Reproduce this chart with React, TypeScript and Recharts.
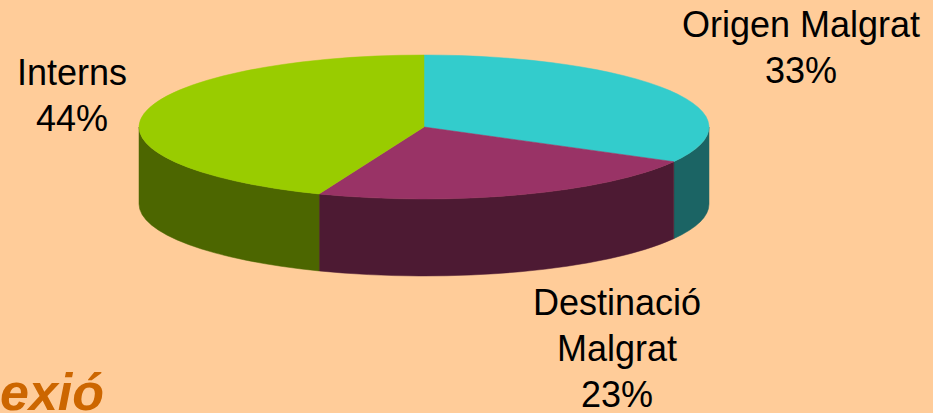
import { PieChart, Pie, Cell } from "recharts";

// shares, clockwise from 12 o'clock
const categories = ["Origen Malgrat", "Destinació Malgrat", "Interns"];
const shares = [33, 23, 44];
const labelLines = [["Origen Malgrat"], ["Destinació", "Malgrat"], ["Interns"]];

const topColors = ["#33CCCC", "#993366", "#99CC00"];
const sideColors = ["#1B6464", "#4D1A33", "#4C6600"];

const data = categories.map((name, i) => ({ name, value: shares[i] }));

const W = 933;
const H = 413;
const CX = 424;
const CY = 127;
const RX = 285;
const TILT = 72 / 285;
const DEPTH = 77;
const FONT = '"Liberation Sans", Arial, sans-serif';
const LINE = 46;
// baseline of the first line of each label
const labelAnchors = [
  { x: 801, y: 37 },
  { x: 617, y: 315 },
  { x: 72, y: 85 },
];

const RAD = Math.PI / 180;
const pt = (cx: number, cy: number, rx: number, ry: number, a: number) => [
  cx + rx * Math.cos(a * RAD),
  cy - ry * Math.sin(a * RAD),
];

// eslint-disable-next-line @typescript-eslint/no-explicit-any
const TopFace = (props: any) => {
  const { cx, cy, outerRadius, startAngle, endAngle, fill } = props;
  const rx = outerRadius;
  const ry = outerRadius * TILT;
  const [x1, y1] = pt(cx, cy, rx, ry, startAngle);
  const [x2, y2] = pt(cx, cy, rx, ry, endAngle);
  const large = Math.abs(startAngle - endAngle) > 180 ? 1 : 0;
  return (
    <path
      d={`M${cx},${cy} L${x1},${y1} A${rx},${ry} 0 ${large} 1 ${x2},${y2} Z`}
      fill={fill}
      stroke={fill}
      strokeWidth={0.5}
    />
  );
};

// eslint-disable-next-line @typescript-eslint/no-explicit-any
const SideWall = (props: any) => {
  const { cx, cy, outerRadius, startAngle, endAngle, fill } = props;
  const rx = outerRadius;
  const ry = outerRadius * TILT;
  const s = Math.max(startAngle, endAngle);
  const e = Math.min(startAngle, endAngle);
  // only the front half (-180..0) can be seen
  const hi = Math.min(s, 0);
  const lo = Math.max(e, -180);
  if (hi <= lo) return <g />;
  const [x1, y1] = pt(cx, cy, rx, ry, hi);
  const [x2, y2] = pt(cx, cy, rx, ry, lo);
  return (
    <path
      d={`M${x1},${y1} A${rx},${ry} 0 0 1 ${x2},${y2} L${x2},${y2 + DEPTH} A${rx},${ry} 0 0 0 ${x1},${y1 + DEPTH} Z`}
      fill={fill}
      stroke={fill}
      strokeWidth={0.5}
    />
  );
};

// eslint-disable-next-line @typescript-eslint/no-explicit-any
const renderLabel = (p: any) => {
  const i = p.index;
  const a = labelAnchors[i];
  const lines = [...labelLines[i], `${Math.round(p.percent * 100)}%`];
  return (
    <text
      key={`lbl-${i}`}
      x={a.x}
      y={a.y}
      textAnchor="middle"
      fontFamily={FONT}
      fontSize={36}
      fill="#000000"
    >
      {lines.map((l, j) => (
        <tspan key={j} x={a.x} dy={j === 0 ? 0 : LINE}>
          {l}
        </tspan>
      ))}
    </text>
  );
};

export default function App() {
  return (
    <div
      style={{
        position: "absolute",
        left: 0,
        top: 0,
        width: W,
        height: H,
        background: "#FFCC99",
        overflow: "hidden",
      }}
    >
      <PieChart width={W} height={H} margin={{ top: 0, right: 0, bottom: 0, left: 0 }}>
        <Pie
          data={data}
          dataKey="value"
          nameKey="name"
          cx={CX}
          cy={CY}
          innerRadius={0}
          outerRadius={RX}
          startAngle={90}
          endAngle={-270}
          stroke="none"
          shape={SideWall}
          isAnimationActive={false}
        >
          {data.map((d, i) => (
            <Cell key={d.name} fill={sideColors[i]} />
          ))}
        </Pie>
        <Pie
          data={data}
          dataKey="value"
          nameKey="name"
          cx={CX}
          cy={CY}
          innerRadius={0}
          outerRadius={RX}
          startAngle={90}
          endAngle={-270}
          stroke="none"
          shape={TopFace}
          label={renderLabel}
          labelLine={false}
          isAnimationActive={false}
        >
          {data.map((d, i) => (
            <Cell key={d.name} fill={topColors[i]} />
          ))}
        </Pie>
      </PieChart>
      {/* tail of the slide title, cut by the crop */}
      <svg
        width={W}
        height={H}
        style={{ position: "absolute", left: 0, top: 0, pointerEvents: "none" }}
      >
        <text
          x={0}
          y={410}
          fontFamily={FONT}
          fontWeight="bold"
          fontStyle="italic"
          fontSize={52}
          fill="#CC6600"
        >
          exió
        </text>
      </svg>
    </div>
  );
}
